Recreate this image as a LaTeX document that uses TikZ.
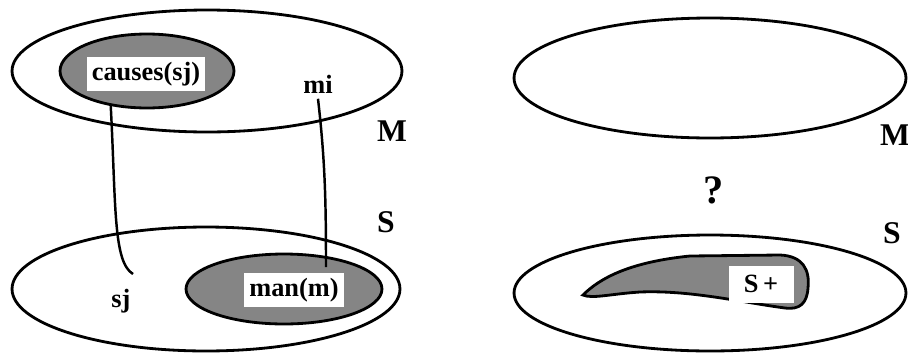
\documentclass[tikz,border=0pt]{standalone}
\usepackage{fontspec}
\setmainfont{Liberation Serif}
\usetikzlibrary{shapes.geometric,positioning}
\tikzset{
  space/.style={draw, ellipse, line width=1.6pt, inner sep=0pt},
  blob/.style={draw, line width=1.6pt, fill=black!48},
  tag/.style={fill=white, inner sep=3pt, font=\fontsize{15}{17}\selectfont\bfseries},
  side/.style={font=\fontsize{18}{20}\selectfont\bfseries},
  link/.style={line width=1.4pt}
}
\begin{document}
\begin{tikzpicture}[x=0.02cm, y=-0.02cm]
  \useasboundingbox (0,0) rectangle (908,352);
  % left side: M above S
  \node[space, minimum width=7.8cm, minimum height=2.44cm] (M1) at (207,71) {};
  \node[space, minimum width=7.76cm, minimum height=2.48cm] (S1) at (206,289) {};
  \node[space, blob, minimum width=3.48cm, minimum height=1.48cm] (causes) at (147,71) {};
  \node[space, blob, minimum width=3.92cm, minimum height=1.4cm] (man) at (284,289) {};
  \node[tag, minimum height=0.64cm] (causeslab) at (146,74) {causes(sj)};
  \node[tag, minimum height=0.66cm] (manlab) at (294,290) {man(m)};
  \node[tag, fill=none] (mi) at (318,84) {mi};
  \node[tag, fill=none] (sj) at (121,301) {sj};
  \node[side] (Mleft) at (392,131) {M};
  \node[side] (Sleft) at (386,222) {S};
  % ends of the two links
  \coordinate (sjend) at (133,274);
  \coordinate (mtop) at (326,267);
  \draw[link] (causes.224) .. controls (116,205) and (113,262) .. (sjend);
  \draw[link] (mi.south) .. controls (325,160) and (326,200) .. (mtop);
  % right side: M above S, S+ only
  \node[space, minimum width=7.84cm, minimum height=2.4cm] (M2) at (710,78) {};
  \node[space, minimum width=7.84cm, minimum height=2.32cm] (S2) at (710,293) {};
  \draw[blob] (583,295) .. controls (600,278) and (630,262) .. (690,256) -- (780,255)
    .. controls (803,256) and (810,270) .. (808,288)
    .. controls (807,303) and (800,310) .. (785,308)
    .. controls (740,302) and (690,290) .. (640,292)
    .. controls (610,294) and (592,299) .. (583,295) -- cycle;
  \node[tag, minimum width=1.3cm, minimum height=0.74cm] (splus) at (761,284) {S\,+};
  \node[side] (Mright) at (895,135) {M};
  \node[side] (Sright) at (892,233) {S};
  \node[side, font=\fontsize{23}{25}\selectfont\bfseries] (what) at (714,190) {?};
\end{tikzpicture}
\end{document}
